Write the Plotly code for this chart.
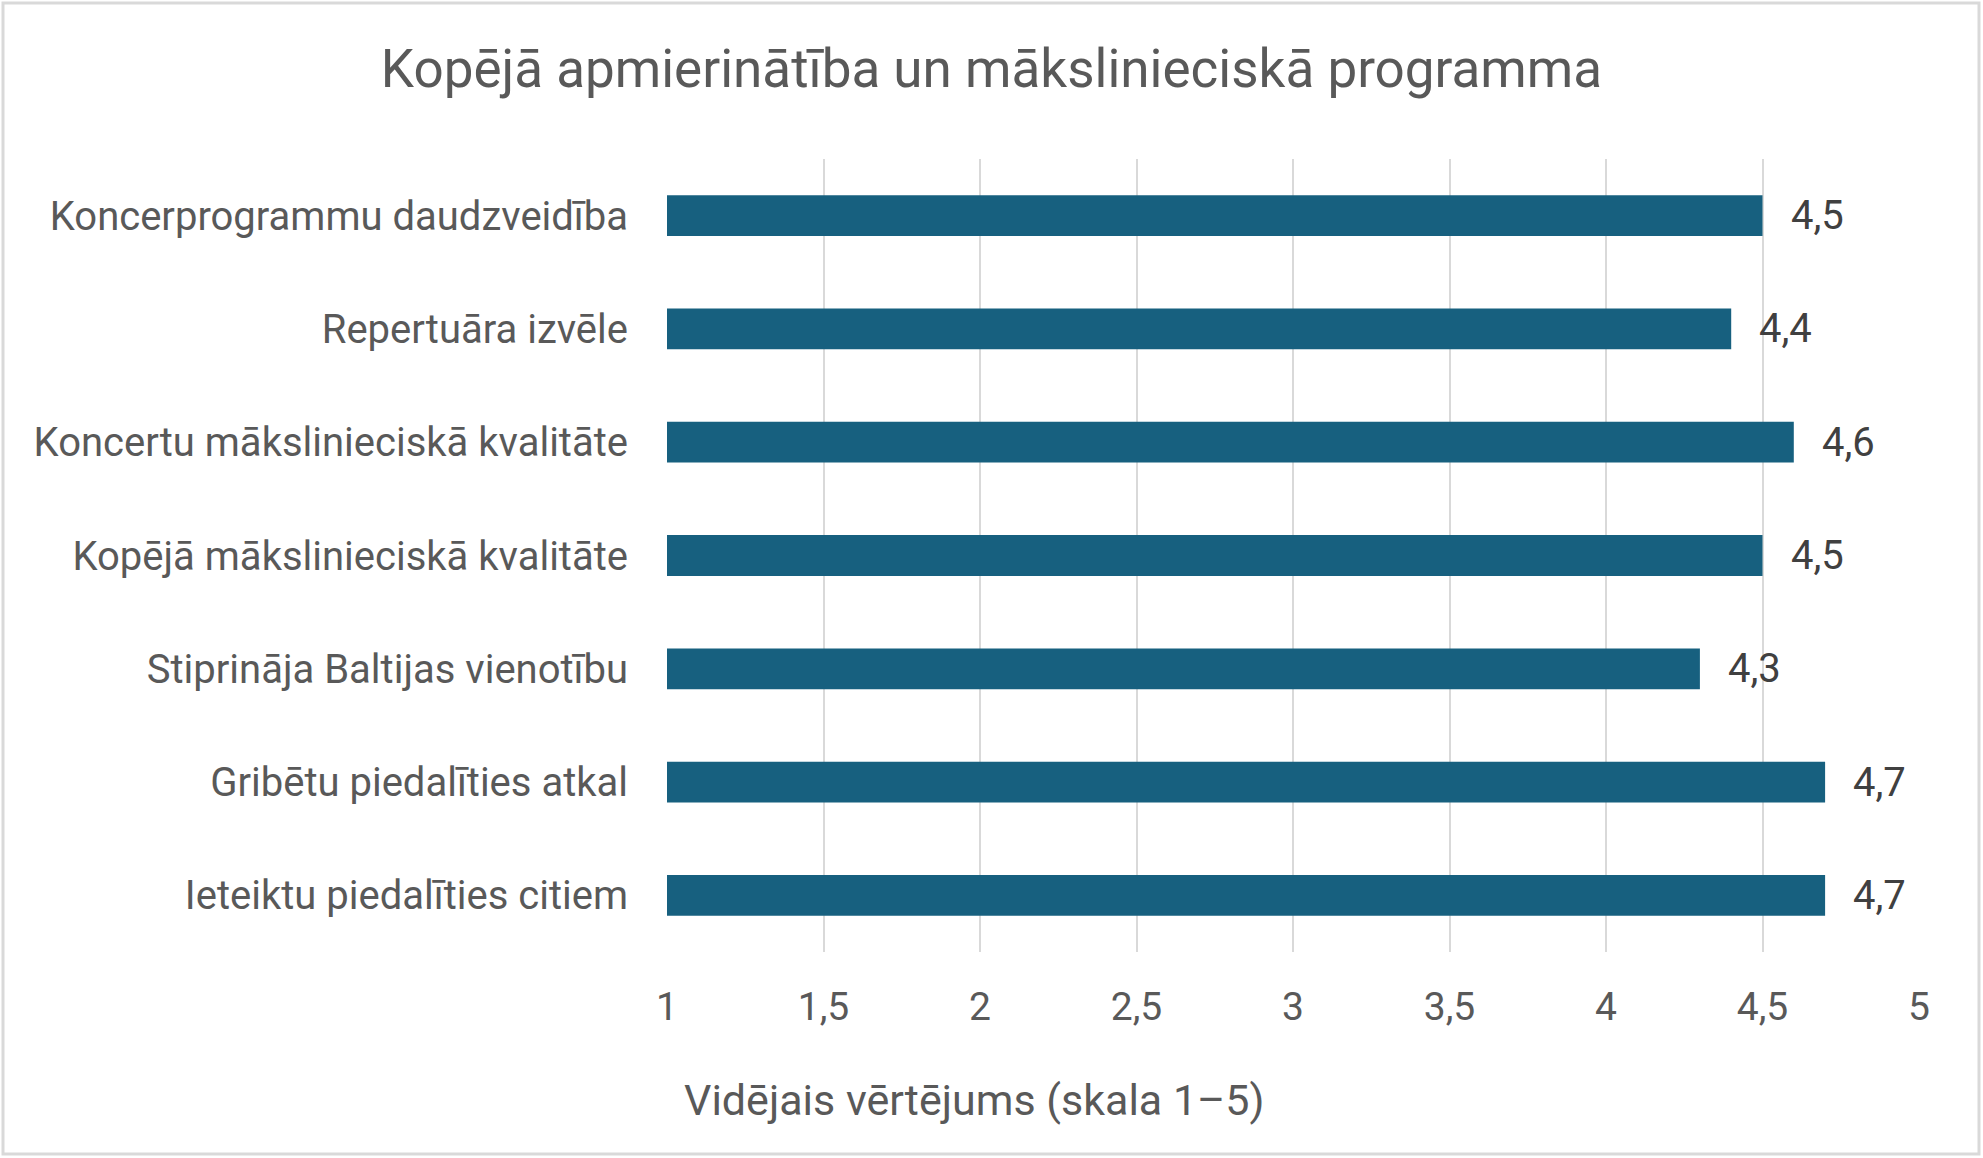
import plotly.graph_objects as go

# data
categories = [
    "Koncerprogrammu daudzveidība",
    "Repertuāra izvēle",
    "Koncertu mākslinieciskā kvalitāte",
    "Kopējā mākslinieciskā kvalitāte",
    "Stiprināja Baltijas vienotību",
    "Gribētu piedalīties atkal",
    "Ieteiktu piedalīties citiem",
]
values = [4.5, 4.4, 4.6, 4.5, 4.3, 4.7, 4.7]
x_ticks = [1, 1.5, 2, 2.5, 3, 3.5, 4, 4.5, 5]

title = "Kopējā apmierinātība un mākslinieciskā programma"
x_title = "Vidējais vērtējums (skala 1–5)"

W, H = 1983, 1158
ml, mr, mt, mb = 667, 64, 159, 206
pw, ph = W - ml - mr, H - mt - mb

fig = go.Figure()
fig.add_trace(go.Bar(
    x=values, y=categories, orientation="h",
    marker=dict(color="#17607F", line_width=0),
    hoverinfo="x+y",
))

# value labels to the right of each bar
for c, v in zip(categories, values):
    fig.add_annotation(
        x=v, y=c, text=f"{v:.1f}".replace(".", ","),
        showarrow=False, xanchor="left", xshift=26,
        font=dict(family="Roboto", size=40, color="#404040"),
    )

# axis title sits a little left of the chart centre, as in the original
fig.add_annotation(
    xref="paper", yref="paper",
    x=(974 - ml) / pw, y=-(1100 - mt - ph) / ph,
    text=x_title, showarrow=False, xanchor="center", yanchor="middle",
    font=dict(family="Roboto", size=43, color="#595959"),
)

# light grey chart border
fig.add_shape(
    type="rect", xref="paper", yref="paper",
    x0=(3 - ml) / pw, x1=(W - 4 - ml) / pw,
    y0=-(H - 4 - mt - ph) / ph, y1=1 + (mt - 3) / ph,
    line=dict(color="#d9d9d9", width=3), fillcolor="rgba(0,0,0,0)", layer="below",
)

fig.update_layout(
    width=W, height=H,
    margin=dict(l=ml, r=mr, t=mt, b=mb),
    paper_bgcolor="white", plot_bgcolor="white",
    separators=", ",
    bargap=0.64,
    showlegend=False,
    font=dict(family="Roboto", color="#595959"),
    title=dict(
        text=title, x=0.5, xanchor="center", y=1 - 68 / H, yanchor="middle",
        font=dict(family="Roboto", size=53, color="#595959"),
    ),
)
fig.update_xaxes(
    range=[1, 5], tickvals=x_ticks,
    showgrid=True, gridcolor="#d9d9d9", gridwidth=2,
    zeroline=False, showline=False, ticks="",
    tickfont=dict(size=39, color="#595959"),
    ticklabelstandoff=28,
)
fig.update_yaxes(
    autorange="reversed", showgrid=False, showline=False, ticks="",
    tickfont=dict(size=40, color="#595959"),
    ticklabelstandoff=38,
)

# drop the browser's default page margin so the figure sits at the top-left corner
fig.write_html(
    "out.html",
    config={"displayModeBar": False},
    post_script="document.body.style.margin='0';",
)
